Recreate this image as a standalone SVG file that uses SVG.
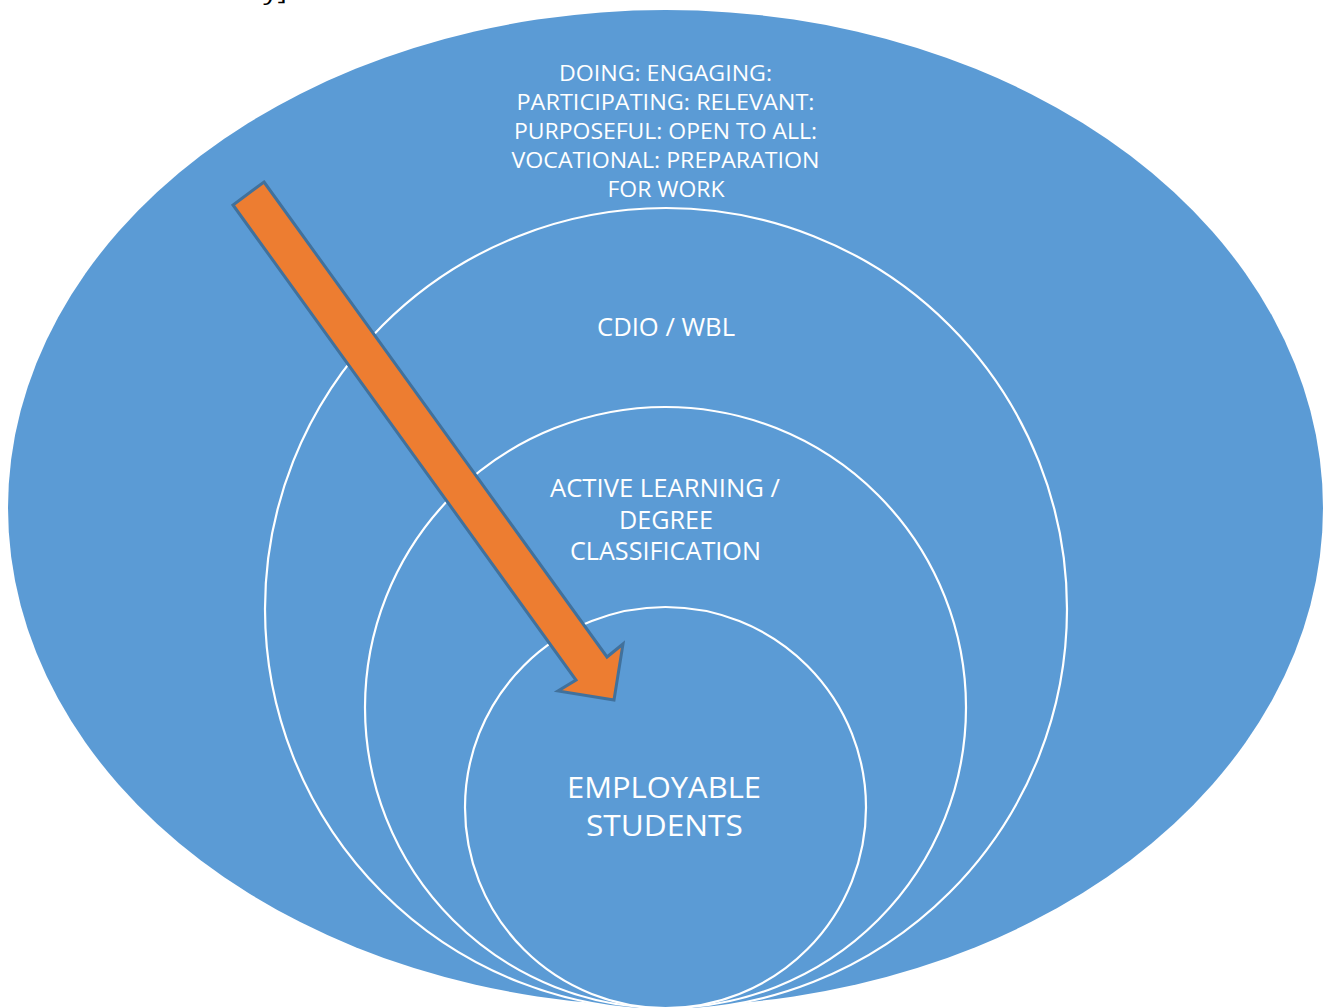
<svg xmlns="http://www.w3.org/2000/svg" width="1334" height="1008" viewBox="0 0 1334 1008">
  <style>
    .ring { fill: #5B9BD5; stroke: #FFFFFF; stroke-width: 2.2; }
    .lbl { fill: #FFFFFF; font-family: "Open Sans", "Liberation Sans", sans-serif; text-anchor: middle; }
    .s1 { font-size: 22px; }
    .s2 { font-size: 25px; }
    .s3 { font-size: 29px; }
    .caption { fill: #000000; font-family: "Open Sans", "Liberation Sans", sans-serif; font-size: 22px; }
  </style>
  <rect x="0" y="0" width="1334" height="1008" fill="#FFFFFF"/>

  <!-- caption line running off the top edge -->
  <text class="caption" x="15" y="0" textLength="272" lengthAdjust="spacingAndGlyphs">leads into the study]</text>

  <g id="outer">
    <ellipse cx="665.5" cy="508" rx="657.5" ry="498" fill="#5B9BD5"/>
    <text class="lbl s1" x="665.5" y="81" textLength="213" lengthAdjust="spacingAndGlyphs">DOING: ENGAGING:</text>
    <text class="lbl s1" x="665.5" y="110" textLength="298" lengthAdjust="spacingAndGlyphs">PARTICIPATING: RELEVANT:</text>
    <text class="lbl s1" x="665.5" y="139" textLength="303" lengthAdjust="spacingAndGlyphs">PURPOSEFUL: OPEN TO ALL:</text>
    <text class="lbl s1" x="665.5" y="168" textLength="308" lengthAdjust="spacingAndGlyphs">VOCATIONAL: PREPARATION</text>
    <text class="lbl s1" x="666" y="197" textLength="117" lengthAdjust="spacingAndGlyphs">FOR WORK</text>
  </g>

  <g id="cdio">
    <circle class="ring" cx="666" cy="609" r="401"/>
    <text class="lbl s2" x="666" y="336" textLength="138" lengthAdjust="spacingAndGlyphs">CDIO / WBL</text>
  </g>

  <g id="active-learning">
    <circle class="ring" cx="665.5" cy="707.5" r="300.5"/>
    <text class="lbl s2" x="665" y="497" textLength="230" lengthAdjust="spacingAndGlyphs">ACTIVE LEARNING /</text>
    <text class="lbl s2" x="666" y="529" textLength="94" lengthAdjust="spacingAndGlyphs">DEGREE</text>
    <text class="lbl s2" x="665.4" y="560" textLength="191" lengthAdjust="spacingAndGlyphs">CLASSIFICATION</text>
  </g>

  <g id="employable">
    <circle class="ring" cx="665.5" cy="807.5" r="200.5"/>
    <text class="lbl s3" x="664" y="798" textLength="194" lengthAdjust="spacingAndGlyphs">EMPLOYABLE</text>
    <text class="lbl s3" x="664.4" y="836" textLength="157" lengthAdjust="spacingAndGlyphs">STUDENTS</text>
  </g>

  <g id="connectors">
    <polygon points="264,182 607,657 623,644 614,700 558,691 576,680 233,205"
             fill="#ED7D31" stroke="#41719C" stroke-width="3" stroke-linejoin="miter"/>
  </g>
</svg>
